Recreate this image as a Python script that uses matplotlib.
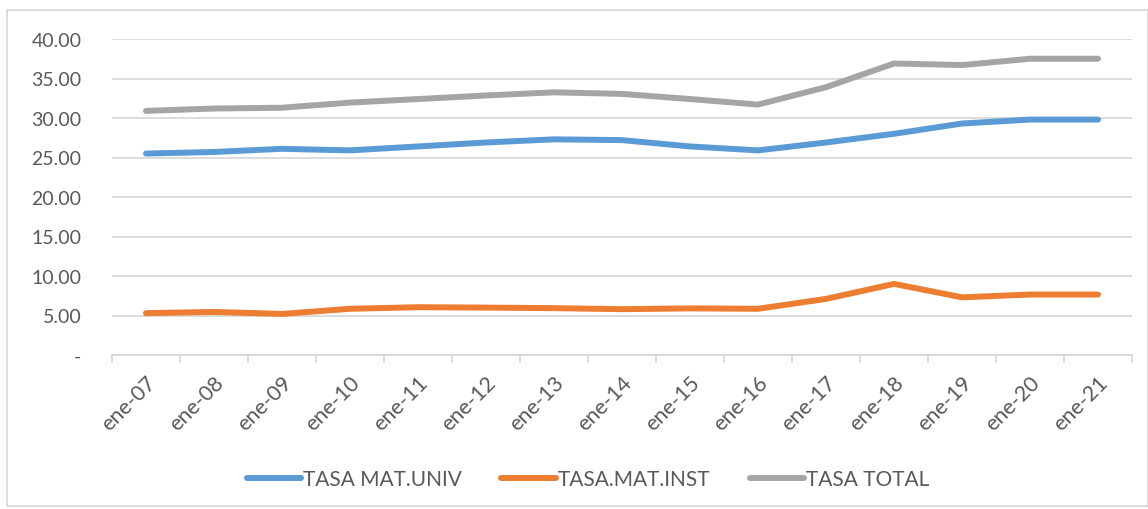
import numpy as np
import matplotlib
matplotlib.use("Agg")
from matplotlib import pyplot as plt
from matplotlib.patches import Rectangle
from matplotlib.ticker import FixedLocator, FuncFormatter

# datos
meses = ["ene-07", "ene-08", "ene-09", "ene-10", "ene-11", "ene-12", "ene-13", "ene-14",
         "ene-15", "ene-16", "ene-17", "ene-18", "ene-19", "ene-20", "ene-21"]
tasa_univ = [25.5, 25.7, 26.1, 25.9, 26.4, 26.9, 27.3, 27.2, 26.4, 25.9, 26.9, 28.0, 29.3, 29.8, 29.8]
tasa_inst = [5.3, 5.45, 5.2, 5.85, 6.05, 6.0, 5.93, 5.8, 5.9, 5.85, 7.1, 9.0, 7.3, 7.65, 7.65]
tasa_total = [30.9, 31.2, 31.3, 31.95, 32.4, 32.85, 33.25, 33.05, 32.4, 31.7, 33.9, 36.9, 36.7, 37.5, 37.5]

series = [("TASA MAT.UNIV", tasa_univ, "#5b9bd5"),
          ("TASA.MAT.INST", tasa_inst, "#ed7d31"),
          ("TASA TOTAL", tasa_total, "#a5a5a5")]

plt.rcParams['font.family'] = ['Lato', 'DejaVu Sans']
gris_texto = "#595959"
gris_linea = "#d9d9d9"

fig = plt.figure(figsize=(11.48, 5.10), dpi=100)
ax = fig.add_axes([112/1148, 1-356/510, (1132-112)/1148, (356-40)/510])

x = np.arange(len(meses))
for nombre, valores, color in series:
    ax.plot(x, valores, color=color, linewidth=4.3, solid_capstyle='round',
            solid_joinstyle='round', label=nombre, zorder=3)

ax.set_xlim(-0.5, len(meses) - 0.5)
ax.set_ylim(0, 40)
ax.set_yticks(np.arange(0, 41, 5))
ax.yaxis.set_major_formatter(FuncFormatter(lambda v, p: "-" if v == 0 else "%.2f" % v))
ax.grid(axis='y', color=gris_linea, linewidth=1.3, zorder=0)
ax.tick_params(axis='y', length=0, pad=22, labelsize=14, labelcolor=gris_texto)

ax.set_xticks(x)
ax.set_xticklabels(meses, rotation=45, ha='right', rotation_mode='anchor')
ax.xaxis.set_minor_locator(FixedLocator(np.arange(-0.5, len(meses), 1)))
ax.tick_params(axis='x', which='major', length=0, pad=12, labelsize=15.5, labelcolor=gris_texto)
ax.tick_params(axis='x', which='minor', length=6, width=1.3, color=gris_linea)

for lado in ['top', 'right', 'left']:
    ax.spines[lado].set_visible(False)
ax.spines['bottom'].set_color(gris_linea)
ax.spines['bottom'].set_linewidth(1.3)

ax.legend(loc='center', bbox_to_anchor=(588/1148, 1-480/510), bbox_transform=fig.transFigure,
          ncol=3, frameon=False, fontsize=15, handlelength=2.6, handletextpad=0.1,
          columnspacing=1.9, labelcolor=gris_texto)

# borde del area del grafico
fig.patches.append(Rectangle((7/1148, 3/510), 1-7/1148, 1-14/510, transform=fig.transFigure,
                             fill=False, edgecolor=gris_linea, linewidth=1.3))

fig.savefig("out.png", dpi=100)
